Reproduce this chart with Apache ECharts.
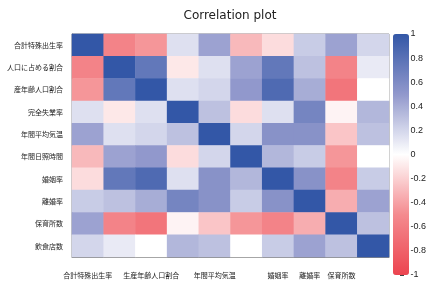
<!DOCTYPE html>
<html>
<head>
<meta charset="utf-8">
<script src="https://cdn.jsdelivr.net/npm/echarts@6/dist/echarts.min.js"></script>
<style>
  html, body { margin: 0; padding: 0; background: #fff; }
  #grafico { width: 429px; height: 282px; }
</style>
</head>
<body>
<div id="grafico"></div>
<script>
// variables (column order = row order)
const colNames = ['合計特殊出生率', '老年人口に占める割合', '生産年齢人口割合', '完全失業率', '年間平均気温',
                  '年間日照時間', '婚姻率', '離婚率', '保育所数', '飲食店数'];
// row labels as printed in the plot (first two are clipped)
const rowNames = ['合計特殊出生率', '人口に占める割合', '産年齢人口割合', '完全失業率', '年間平均気温',
                  '年間日照時間', '婚姻率', '離婚率', '保育所数', '飲食店数'];
// columns that keep their label on the x axis
const shownCols = [0, 2, 4, 6, 7, 8];

// correlation matrix
const r1  = [ 1.00, -0.55, -0.45,  0.15,  0.45, -0.30, -0.15,  0.25,  0.45,  0.20];
const r2  = [-0.55,  1.00,  0.75, -0.10,  0.15,  0.45,  0.75,  0.30, -0.55,  0.10];
const r3  = [-0.45,  0.75,  1.00,  0.15,  0.20,  0.50,  0.85,  0.40, -0.65,  0.00];
const r4  = [ 0.15, -0.10,  0.15,  1.00,  0.30, -0.15,  0.15,  0.65, -0.05,  0.35];
const r5  = [ 0.45,  0.15,  0.20,  0.30,  1.00,  0.20,  0.55,  0.55, -0.25,  0.30];
const r6  = [-0.30,  0.45,  0.50, -0.15,  0.20,  1.00,  0.35,  0.25, -0.45,  0.00];
const r7  = [-0.15,  0.75,  0.85,  0.15,  0.55,  0.35,  1.00,  0.55, -0.55,  0.25];
const r8  = [ 0.25,  0.30,  0.40,  0.65,  0.55,  0.25,  0.55,  1.00, -0.35,  0.45];
const r9  = [ 0.45, -0.55, -0.65, -0.05, -0.25, -0.45, -0.55, -0.35,  1.00,  0.30];
const r10 = [ 0.20,  0.10,  0.00,  0.35,  0.30,  0.00,  0.25,  0.45,  0.30,  1.00];
const matrix = [r1, r2, r3, r4, r5, r6, r7, r8, r9, r10];

// colour bar ticks
const barMin = -1, barMax = 1, barStep = 0.2;

// [col, row, value] triples for the heatmap
const cells = [];
matrix.forEach((row, i) => row.forEach((v, j) => cells.push([j, i, v])));

const chartDom = document.getElementById('grafico');
const myChart = echarts.init(chartDom);

const jp = 'Noto Sans CJK JP';

const option = {
    animation: false,
    title: {
        text: 'Correlation plot',
        left: 230,
        top: 10,
        padding: 0,
        textAlign: 'center',
        textStyle: { fontFamily: 'DejaVu Sans', fontSize: 12, fontWeight: 'normal', color: '#222' }
    },
    grid: [
        { left: 72, right: 40, top: 34, bottom: 25, show: true, borderColor: '#888', borderWidth: 1 },
        // invisible grid that only carries the colour bar scale
        { left: 400, width: 9, top: 34, height: 241 }
    ],
    xAxis: [
        {
            type: 'category',
            data: colNames,
            gridIndex: 0,
            axisLine: { lineStyle: { color: '#888' } },
            axisTick: { alignWithLabel: true, interval: 0, length: 5, lineStyle: { color: '#555' } },
            axisLabel: {
                interval: (idx) => shownCols.includes(idx),
                margin: 15,
                fontSize: 7,
                fontFamily: jp,
                color: '#222'
            },
            splitLine: { show: false }
        },
        { type: 'value', gridIndex: 1, show: false, min: 0, max: 1 }
    ],
    yAxis: [
        {
            type: 'category',
            data: rowNames,
            inverse: true,
            gridIndex: 0,
            axisLine: { lineStyle: { color: '#888' } },
            axisTick: { alignWithLabel: true, interval: 0, length: 5, lineStyle: { color: '#555' } },
            axisLabel: { interval: 0, margin: 9, fontSize: 7, fontFamily: jp, color: '#222' },
            splitLine: { show: false }
        },
        {
            type: 'value',
            gridIndex: 1,
            position: 'right',
            min: barMin,
            max: barMax,
            interval: barStep,
            axisLine: { show: false },
            axisTick: { show: true, length: 4, lineStyle: { color: '#444' } },
            axisLabel: {
                margin: 3,
                fontSize: 9,
                fontFamily: 'Liberation Sans Narrow, Liberation Sans',
                color: '#222',
                formatter: (v) => String(Math.round(v * 10) / 10)
            },
            splitLine: { show: false }
        }
    ],
    visualMap: {
        type: 'continuous',
        seriesIndex: 0,
        min: barMin,
        max: barMax,
        orient: 'vertical',
        left: 393,
        top: 34,
        padding: 0,
        itemWidth: 16,
        itemHeight: 241,
        calculable: false,
        hoverLink: false,
        text: null,
        inRange: { color: ['#EC4450', '#F48A8E', '#FFFFFF', '#9198CC', '#3357A7'] }
    },
    series: [
        {
            type: 'heatmap',
            xAxisIndex: 0,
            yAxisIndex: 0,
            data: cells,
            label: { show: false },
            itemStyle: { borderWidth: 0 }
        }
    ]
};

option && myChart.setOption(option);

window.addEventListener('resize', () => {
    myChart.resize();
});
</script>
</body>
</html>
